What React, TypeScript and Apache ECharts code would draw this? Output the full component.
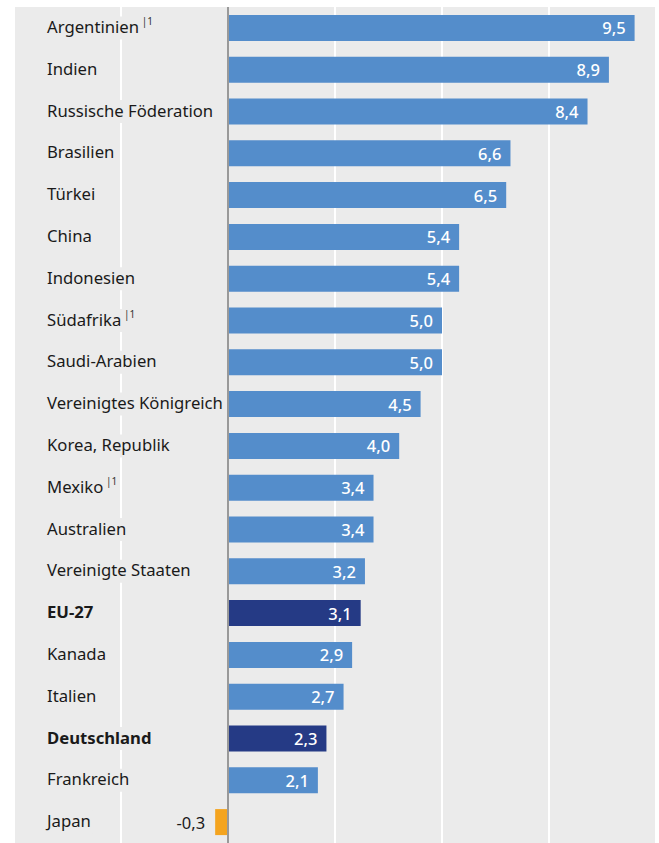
import React, { useEffect, useRef } from "react";
import * as echarts from "echarts";

const categories = [
  "Argentinien", "Indien", "Russische Föderation", "Brasilien", "Türkei", "China",
  "Indonesien", "Südafrika", "Saudi-Arabien", "Vereinigtes Königreich", "Korea, Republik",
  "Mexiko", "Australien", "Vereinigte Staaten", "EU-27", "Kanada", "Italien",
  "Deutschland", "Frankreich", "Japan",
];
const values = [9.5, 8.9, 8.4, 6.6, 6.5, 5.4, 5.4, 5.0, 5.0, 4.5, 4.0, 3.4, 3.4, 3.2, 3.1, 2.9, 2.7, 2.3, 2.1, -0.3];
const footnoted = ["Argentinien", "Südafrika", "Mexiko"];
const highlighted = ["EU-27", "Deutschland"];

const BLUE = "#548dcb";
const DARK = "#253a85";
const ORANGE = "#f4a41f";
const BG = "#ebebeb";
const FONT = "'Noto Sans', sans-serif";

export default function App() {
  const ref = useRef<HTMLDivElement>(null);
  useEffect(() => {
    if (!ref.current) return;
    const chart = echarts.init(ref.current, null, { renderer: "svg" });
    const fmt = (v: number) => v.toFixed(1).replace(".", ",");
    chart.setOption({
      animation: false,
      grid: {
        left: 14, right: 3, top: 7, height: 840,
        show: true, backgroundColor: BG, borderWidth: 0,
      },
      xAxis: {
        type: "value", min: -5, max: 10, interval: 2.5,
        axisLabel: { show: false }, axisTick: { show: false }, axisLine: { show: false },
        splitLine: { show: true, lineStyle: { color: "#ffffff", width: 2 } },
      },
      yAxis: {
        type: "category", data: categories, inverse: true,
        axisLine: { show: false, onZero: false }, axisTick: { show: false },
        axisLabel: {
          align: "left", margin: -31,
          backgroundColor: BG, padding: [0, 2, 3, 2],
          formatter: (name: string) => {
            if (highlighted.includes(name)) return `{b|${name}}`;
            if (footnoted.includes(name)) return `{n|${name}}{s| |1}`;
            return `{n|${name}}`;
          },
          rich: {
            n: { fontFamily: FONT, fontSize: 16.7, color: "#1a1a1a", lineHeight: 20 },
            b: { fontFamily: FONT, fontSize: 16.7, color: "#1a1a1a", fontWeight: "bold", lineHeight: 20 },
            s: { fontFamily: FONT, fontSize: 10, color: "#333", verticalAlign: "top", lineHeight: 12 },
          },
        },
      },
      series: [
        {
          type: "bar",
          barWidth: 26,
          data: values.map((v, i) => {
            const name = categories[i];
            const color = v < 0 ? ORANGE : highlighted.includes(name) ? DARK : BLUE;
            return {
              value: v,
              itemStyle: { color },
              label: v < 0
                ? { position: "left", color: "#1a1a1a", distance: 10, fontWeight: "normal" }
                : { position: "insideRight", color: "#ffffff", distance: 9 },
            };
          }),
          label: {
            show: true, fontFamily: FONT, fontSize: 16.5, fontWeight: 500,
            formatter: (p: any) => fmt(p.value),
          },
          markLine: {
            silent: true, symbol: "none", label: { show: false },
            lineStyle: { color: "#999999", width: 2, type: "solid" },
            data: [{ xAxis: 0 }],
          },
        },
      ],
    });
    return () => chart.dispose();
  }, []);
  return <div ref={ref} style={{ position: "absolute", left: 0, top: 0, width: 659, height: 843 }} />;
}
